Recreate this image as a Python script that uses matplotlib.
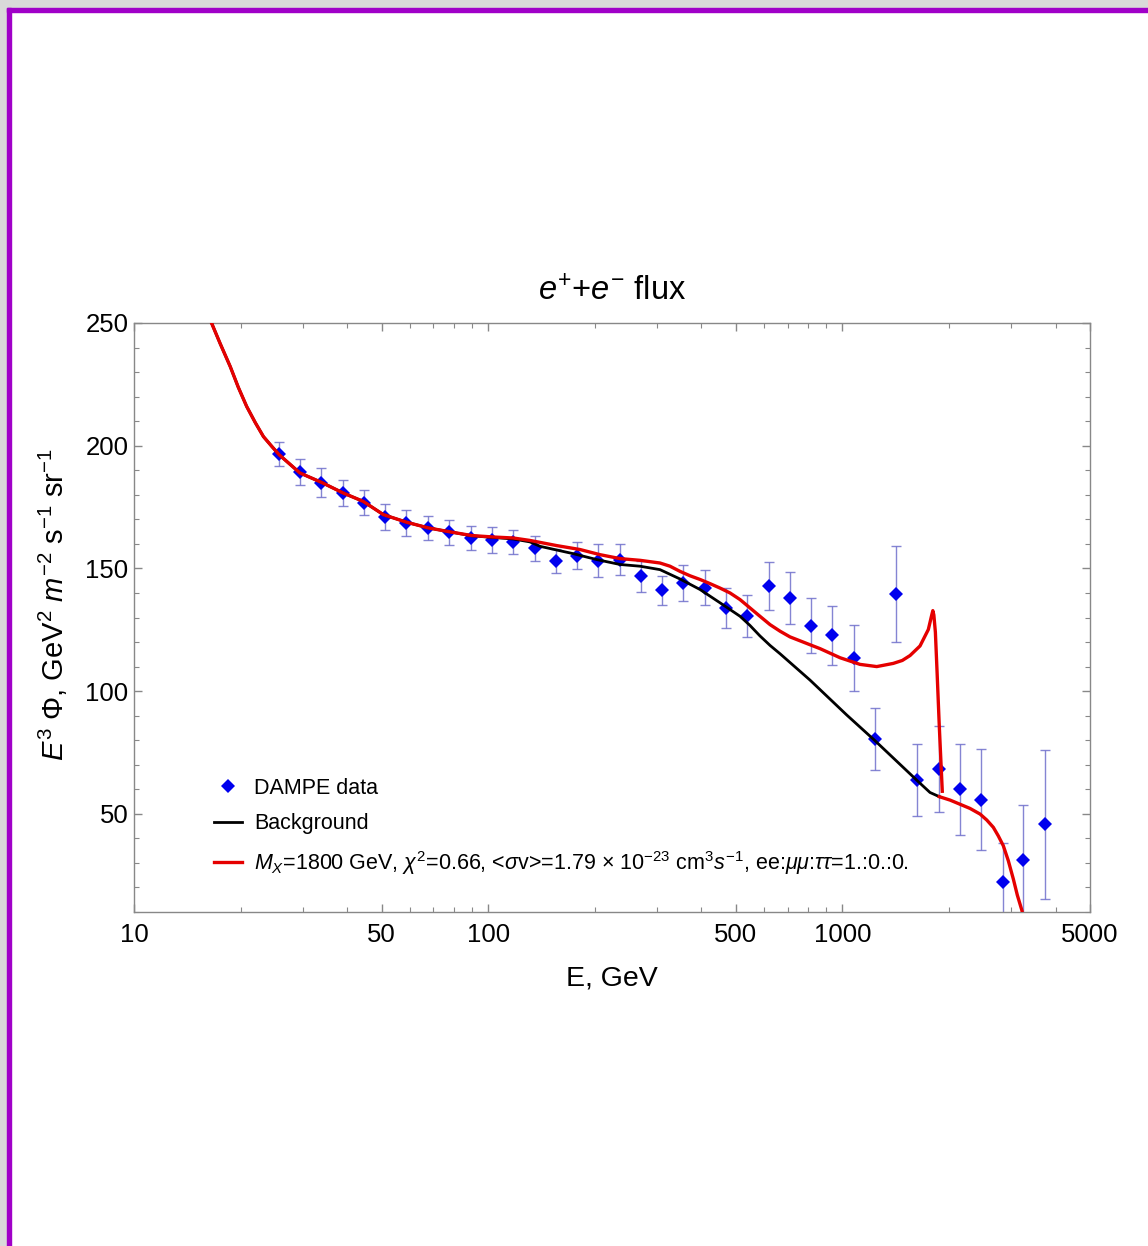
## e+ + e- flux vs DAMPE data, background and DM model
import numpy as np
import matplotlib
matplotlib.use('Agg')
import matplotlib.pyplot as plt
from matplotlib.patches import Rectangle
from matplotlib.lines import Line2D
from matplotlib.ticker import FixedLocator, NullFormatter, MultipleLocator

plt.rcParams['font.family'] = ['Liberation Sans', 'DejaVu Sans']
plt.rcParams['mathtext.fontset'] = 'custom'
plt.rcParams['mathtext.rm'] = 'Liberation Sans'
plt.rcParams['mathtext.it'] = 'Liberation Sans:italic'
plt.rcParams['mathtext.bf'] = 'Liberation Sans:bold'

# DAMPE points (GeV, E^3 flux, error)
E_data = [25.7, 29.5, 33.7, 38.8, 44.6, 51.2, 58.5, 67.5, 77.4, 89.2, 102.3, 117.3,
          135.3, 155.1, 177.8, 204.6, 235, 269.5, 309.5, 355.6, 408.5, 469.3, 538,
          620.6, 711.5, 815, 936.6, 1076, 1236, 1416, 1627, 1870, 2147, 2466, 2835,
          3242, 3740]
flux = [196.6, 189.1, 185.0, 180.7, 176.8, 170.8, 168.4, 166.5, 164.7, 162.4, 161.5,
        160.9, 158.2, 153.1, 155.2, 153.2, 153.6, 146.8, 141.1, 144.1, 142.2, 133.9,
        130.5, 142.7, 138.0, 126.7, 122.7, 113.6, 80.6, 139.6, 63.8, 68.2, 60.0, 55.8,
        22.3, 31.3, 45.7]
err = [5.0, 5.3, 5.8, 5.2, 5.2, 5.3, 5.2, 5.0, 5.0, 4.9, 5.4, 4.9, 5.2, 5.0, 5.5,
       6.8, 6.3, 6.3, 6.0, 7.2, 7.3, 8.2, 8.6, 9.8, 10.5, 11.2, 12.0, 13.4, 12.6,
       19.6, 14.6, 17.4, 18.6, 20.7, 16.0, 22.2, 30.2]

# background curve
E_bg = [16.5, 17.5, 18.7, 19.7, 20.8, 22.0, 23.2, 24.5, 25.7, 29.4, 33.9, 39.0, 44.4,
        50.6, 58.9, 67.8, 78.0, 89.8, 103.4, 117.7, 131.2, 140.1, 173.9, 202.5, 235.6,
        268.3, 305.5, 347.9, 396.3, 451.2, 514, 548, 585, 625, 667, 810, 1028, 1236,
        1627, 1767, 1877]
bg = [250.5, 241.7, 232.2, 223.8, 216.0, 209.4, 203.7, 199.7, 196.3, 188.9, 185.0,
      180.7, 177.3, 171.9, 168.8, 166.5, 164.9, 163.3, 162.6, 162.0, 160.8, 159.0,
      156.0, 153.6, 151.6, 150.9, 149.5, 145.7, 141.4, 136.0, 130.5, 126.8, 122.5,
      118.6, 115.2, 104.5, 90.3, 79.8, 63.5, 58.7, 57.0]

# background + DM, M_X = 1800 GeV
E_dm = [16.5, 17.5, 18.7, 19.7, 20.8, 22.0, 23.2, 24.5, 25.7, 29.4, 33.9, 39.0, 44.4,
        50.6, 58.9, 67.8, 78.0, 89.8, 103.4, 117.7, 131.2, 156.1, 181.6, 206.9, 235.6,
        268.3, 305.5, 326, 347.9, 371.3, 396.3, 422.9, 451.2, 481.6, 514, 548.4, 585,
        624.6, 667, 711.2, 759, 810, 865, 985, 1121, 1250, 1392, 1476, 1552, 1656,
        1748, 1787, 1800, 1812, 1830, 1850, 1877, 1914]
dm = [250.5, 241.7, 232.2, 223.8, 216.0, 209.4, 203.7, 199.7, 196.3, 188.9, 185.0,
      180.7, 177.3, 171.9, 168.8, 166.5, 164.9, 163.4, 162.8, 162.4, 161.4, 159.3,
      157.7, 155.6, 154.0, 153.3, 152.2, 150.9, 148.8, 147.0, 145.5, 143.8, 142.0,
      140.0, 137.3, 133.9, 130.5, 127.1, 124.4, 122.1, 120.5, 118.9, 117.3, 113.6,
      110.9, 110.0, 111.3, 112.5, 114.5, 118.4, 125.1, 131.0, 132.8, 131.0, 124.0,
      108.0, 85.8, 59.2]
# above the cutoff the model follows background
E_tail = [1877, 2013, 2148, 2292, 2447, 2555, 2667, 2755, 2846, 2940, 3038, 3117,
          3214, 3256]
tail = [57.0, 55.6, 53.9, 52.2, 49.9, 47.5, 44.5, 41.0, 37.0, 30.9, 23.4, 16.9,
        10.5, 5.0]

fig = plt.figure(figsize=(11.48, 12.46), dpi=100)
W, H = 1148, 1246
# frame of the original page: gray strip + purple line (top and left)
fig.patches.append(Rectangle((0, 1 - 8 / H), 1, 8 / H, transform=fig.transFigure,
                             color='#d9d9d9', zorder=0))
fig.patches.append(Rectangle((0, 0), 7 / W, 1, transform=fig.transFigure,
                             color='#d9d9d9', zorder=0))
fig.patches.append(Rectangle((7 / W, 1 - 12 / H), 1, 4 / H, transform=fig.transFigure,
                             color='#a000c8', zorder=1))
fig.patches.append(Rectangle((7 / W, 0), 4 / W, 1 - 8 / H, transform=fig.transFigure,
                             color='#a000c8', zorder=1))

ax = fig.add_axes([134 / W, 1 - 912 / H, 956 / W, 589 / H])

ax.errorbar(E_data, flux, yerr=err, fmt='none', ecolor='#7070cc', elinewidth=1.0,
            capsize=3.5, capthick=1.0, alpha=0.85, zorder=2)
ax.plot(E_data, flux, 'D', color='#0000ee', ms=7, mew=0, zorder=3)
ax.plot(E_bg, bg, color='black', lw=2.0, zorder=4)
ax.plot(E_dm, dm, color='#e50000', lw=2.4, zorder=5)
ax.plot(E_tail, tail, color='#e50000', lw=2.4, zorder=5)

ax.set_xscale('log')
ax.set_xlim(10, 5000)
ax.set_ylim(10, 250)

ax.xaxis.set_major_locator(FixedLocator([10, 50, 100, 500, 1000, 5000]))
ax.set_xticklabels(['10', '50', '100', '500', '1000', '5000'])
minors = [v * d for d in (10, 100, 1000) for v in range(1, 10)]
minors = [m for m in minors if m not in (10, 50, 100, 500, 1000, 5000) and m < 5000]
ax.xaxis.set_minor_locator(FixedLocator(minors))
ax.xaxis.set_minor_formatter(NullFormatter())
ax.yaxis.set_major_locator(FixedLocator([50, 100, 150, 200, 250]))
ax.yaxis.set_minor_locator(MultipleLocator(10))

for s in ax.spines.values():
    s.set_color('#888888')
    s.set_linewidth(1.0)
ax.tick_params(which='both', direction='in', top=True, right=True, color='#888888',
               labelsize=18.5)
ax.tick_params(which='major', length=6, width=1.0)
ax.tick_params(which='minor', length=3.5, width=0.8)
ax.tick_params(axis='x', pad=8)
ax.tick_params(axis='y', pad=4)

ax.set_title('$e^{+}$+$e^{-}$ flux', fontsize=23.5, pad=16)
ax.set_xlabel('E, GeV', fontsize=20.5, labelpad=13)
ax.set_ylabel('$E^{3}$ \u03a6, GeV$^{2}$ $m^{-2}$ s$^{-1}$ sr$^{-1}$', fontsize=21)
ax.yaxis.set_label_coords(-0.067, 0.522)

handles = [Line2D([], [], ls='none', marker='D', color='#0000ee', ms=7, mew=0),
           Line2D([], [], color='black', lw=2.0),
           Line2D([], [], color='#e50000', lw=2.4)]
labels = ['DAMPE data', 'Background',
          '$M_{X}$=1800 GeV, $\\chi^{2}$=0.66, <$\\sigma$v>=1.79 \u00d7 10$^{-23}$ '
          'cm$^{3}$$s^{-1}$, ee:$\\mu\\mu$:$\\tau\\tau$=1.:0.:0.']
ax.legend(handles, labels, loc='upper left', bbox_to_anchor=(0.084, 0.228),
          frameon=False, fontsize=15.5, handlelength=1.3, handletextpad=0.55,
          labelspacing=0.68, borderaxespad=0, borderpad=0)

plt.savefig('out.png', dpi=100)
